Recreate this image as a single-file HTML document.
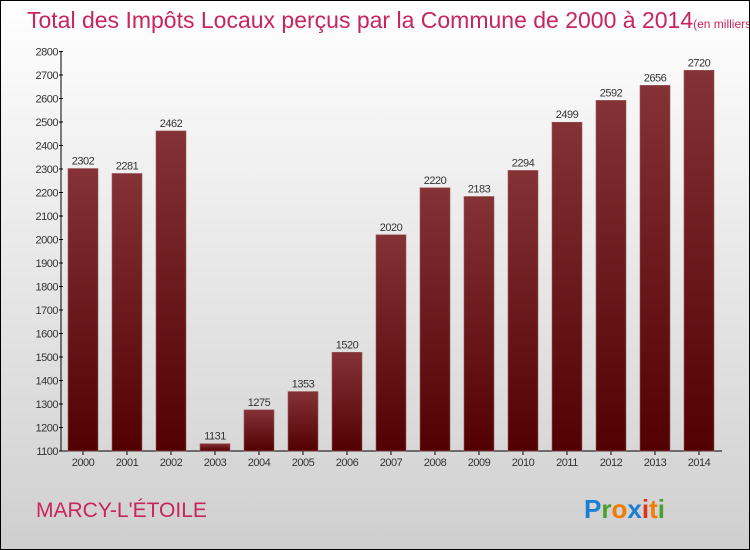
<!DOCTYPE html>
<html><head><meta charset="utf-8"><style>
body{margin:0;width:750px;height:550px;overflow:hidden;font-family:"Liberation Sans",sans-serif}
#root{position:relative;width:748px;height:548px;border:1px solid #000;background:linear-gradient(#fff,#f0f0f0 30%,#d9d9d9 80%,#cfcfcf)}
</style></head><body>
<div id="root">
<svg id="chart" width="748" height="548" style="position:absolute;left:0;top:0">
<defs><linearGradient id="bg" x1="0" y1="0" x2="0" y2="1"><stop offset="0" stop-color="#853236"/><stop offset="1" stop-color="#520002"/></linearGradient></defs>
<text x="26" y="27" font-size="23" fill="#c8255a">Total des Impôts Locaux perçus par la Commune de 2000 à 2014<tspan font-size="12">(en milliers d'€)</tspan></text>
<text x="35" y="516" font-size="21" fill="#c8255a">MARCY-L'ÉTOILE</text>
<text x="583" y="517" font-size="26" font-weight="bold"><tspan fill="#1a7fd4">P</tspan><tspan fill="#4aa02c">r</tspan><tspan fill="#f07c00">o</tspan><tspan fill="#1a7fd4">x</tspan><tspan fill="#e03020">i</tspan><tspan fill="#f07c00">t</tspan><tspan fill="#4aa02c">i</tspan></text>
<g id="axes"></g><g id="bars"></g>
</svg>
</div>
<script>
const years=["2000","2001","2002","2003","2004","2005","2006","2007","2008","2009","2010","2011","2012","2013","2014"];
const values=[2302,2281,2462,1131,1275,1353,1520,2020,2220,2183,2294,2499,2592,2656,2720];
const yTicks=[1100,1200,1300,1400,1500,1600,1700,1800,1900,2000,2100,2200,2300,2400,2500,2600,2700,2800];
const ns="http://www.w3.org/2000/svg";
const y0=450,y1=50.5,vmin=1100,vmax=2800;
const y=v=>y0-(v-vmin)/(vmax-vmin)*(y0-y1);
const xc=i=>82+i*44;
function mk(t,a,p){const e=document.createElementNS(ns,t);for(const k in a)e.setAttribute(k,a[k]);p.appendChild(e);return e;}
const ax=document.getElementById('axes'),bs=document.getElementById('bars');
const yl=mk('line',{x1:60,y1:y1,x2:60,y2:y0,stroke:'#000','stroke-width':1},ax);


const xl=mk('line',{x1:60,y1:y0,x2:721,y2:y0,stroke:'#000','stroke-width':1},ax);


yTicks.forEach(v=>{
 mk('line',{x1:58,y1:y(v),x2:62,y2:y(v),stroke:'#000'},ax);
 const t=mk('text',{x:57,y:y(v)+4,'text-anchor':'end','font-size':11,fill:'#333','letter-spacing':'-0.5'},ax);
 t.textContent=v;
 
 
});
years.forEach((yr,i)=>{
 const v=values[i];
 const r=mk('rect',{x:xc(i)-15,y:y(v),width:30,height:y0-y(v),fill:'url(#bg)',stroke:'#9a5a5c','stroke-width':0.6},bs);
 
 
 const l=mk('text',{x:xc(i),y:y(v)-4,'text-anchor':'middle','font-size':11,fill:'#333','letter-spacing':'-0.5'},bs);
 l.textContent=v;
 
 
 mk('line',{x1:xc(i),y1:y0,x2:xc(i),y2:y0+4,stroke:'#000'},ax);
 const xt=mk('text',{x:xc(i),y:465,'text-anchor':'middle','font-size':11,fill:'#333','letter-spacing':'-0.5'},ax);
 xt.textContent=yr;
 
 
});
</script>
</body></html>
